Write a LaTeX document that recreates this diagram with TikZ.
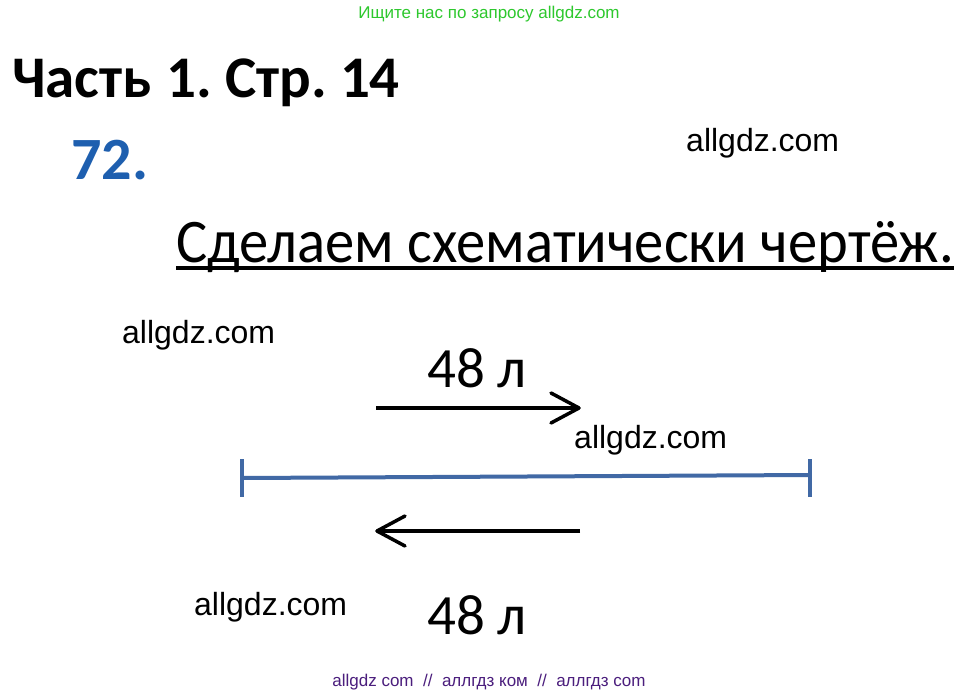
\documentclass[tikz,border=0pt]{standalone}
\usepackage{fontspec}
\setmainfont{Carlito}
\newfontfamily\wmfont{Liberation Sans}
\newfontfamily\condfont[FakeStretch=0.945]{Carlito}
\definecolor{topgreen}{RGB}{45,200,45}
\definecolor{numblue}{RGB}{30,95,175}
\definecolor{segblue}{RGB}{65,105,165}
\definecolor{footpurple}{RGB}{75,30,125}
\tikzset{
  txt/.style={inner sep=0pt, anchor=base west},
  wm/.style={txt, font=\wmfont\fontsize{32}{36}\selectfont},
  arr/.style={line width=3.5pt},
  seg/.style={line width=4pt, segblue},
}
\begin{document}
\begin{tikzpicture}[x=1pt,y=-1pt]
\useasboundingbox (0,0) rectangle (979,696);
\fill[white] (0,0) rectangle (979,696);
\node[inner sep=0pt, anchor=base, topgreen, font=\wmfont\fontsize{17}{19}\selectfont] (top) at (489,18) {Ищите нас по запросу allgdz.com};
\node[txt, font=\bfseries\fontsize{59}{70}\selectfont] (title) at (12,97) {Часть\hspace{15pt}1.\hspace{13pt}Стр.\hspace{13pt}14};
\node[txt, numblue, font=\bfseries\fontsize{60}{70}\selectfont] (num) at (71,179) {72.};
\node[wm] (w1) at (686,151) {allgdz.com};
\node[txt, font=\condfont\fontsize{62}{70}\selectfont] (head) at (176,262) {Сделаем схематически чертёж.};
\draw[line width=4pt] (head.base west) ++(0,6) coordinate (ul1) -- (ul1 -| head.east);
\node[wm] (w2) at (122,343) {allgdz.com};
\node[txt, font=\fontsize{57}{70}\selectfont] (l1) at (427,387) {48 л};
\coordinate (a1s) at (376,408);
\coordinate (a1e) at (579,408);
\draw[arr] (a1s) -- (a1e);
\draw[arr, line cap=round] (a1e) -- ++(-28,-15);
\draw[arr, line cap=round] (a1e) -- ++(-28,15);
\node[wm] (w3) at (574,448) {allgdz.com};
\coordinate (sL) at (242,478);
\coordinate (sR) at (810,475);
\draw[seg] (sL) -- (sR);
\draw[seg] (sL) ++(0,-19) -- ++(0,38);
\draw[seg] (sR) ++(0,-16) -- ++(0,38);
\coordinate (a2s) at (580,531);
\coordinate (a2e) at (377,531);
\draw[arr] (a2s) -- (a2e);
\draw[arr, line cap=round] (a2e) -- ++(28,-15);
\draw[arr, line cap=round] (a2e) -- ++(28,15);
\node[wm] (w4) at (194,615) {allgdz.com};
\node[txt, font=\fontsize{57}{70}\selectfont] (l2) at (427,634) {48 л};
\node[inner sep=0pt, anchor=base, footpurple, font=\wmfont\fontsize{17}{19}\selectfont] (foot) at (489,686) {allgdz com\ \ //\ \ аллгдз ком\ \ //\ \ аллгдз com};
\end{tikzpicture}
\end{document}
